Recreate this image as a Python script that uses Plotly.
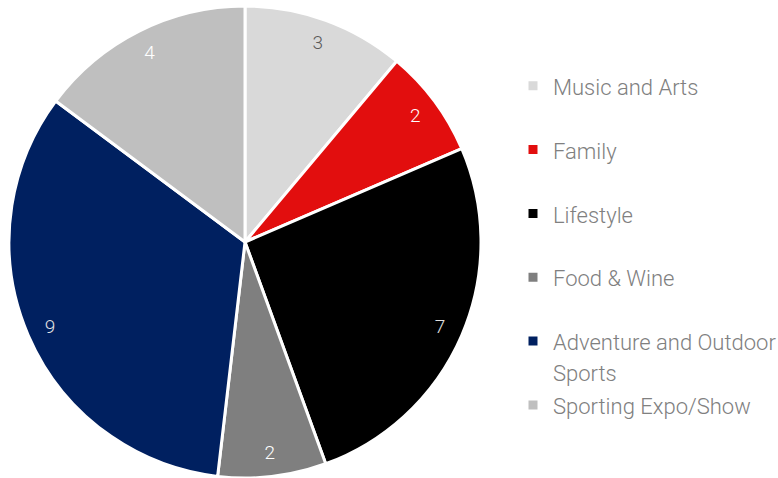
import plotly.graph_objects as go

categories = ["Music and Arts", "Family", "Lifestyle", "Food & Wine",
              "Adventure and Outdoor Sports", "Sporting Expo/Show"]
legend_labels = ["Music and Arts", "Family", "Lifestyle", "Food & Wine",
                 "Adventure and Outdoor<br>Sports", "Sporting Expo/Show"]
values = [3, 2, 7, 2, 9, 4]
colors = ["#d9d9d9", "#e20e0e", "#000000", "#7f7f7f", "#002060", "#bfbfbf"]
text_colors = ["#595959", "#ffffff", "#e0e0e0", "#ffffff", "#e0e0e0", "#ffffff"]

def legend_text(s):
    if "<br>" in s:
        parts = s.split("<br>")
        return "<br>".join(f"<span style='font-size:22px'>{p}</span>" for p in parts)
    return f"<span style='font-size:22px'>{s}</span><br> "

labels = [legend_text(s) for s in legend_labels]

dom = dict(x=[9/778, 481/778], y=[0, 1 - 6/478])
font_fam = "Roboto"

fig = go.Figure()
fig.add_trace(go.Pie(
    labels=labels, values=values, sort=False, direction="clockwise", rotation=0,
    marker=dict(colors=colors, line=dict(color="#ffffff", width=3)),
    textinfo="none", domain=dom, hoverinfo="label+value",
))
fig.add_trace(go.Pie(
    labels=labels, values=values, sort=False, direction="clockwise", rotation=0,
    hole=0.8, showlegend=False,
    marker=dict(colors=["rgba(0,0,0,0)"] * len(values), line=dict(width=0)),
    textinfo="value", textposition="inside", insidetextorientation="horizontal",
    insidetextfont=dict(family=font_fam, size=19, color=text_colors, weight=300),
    domain=dom, hoverinfo="skip",
))
fig.update_layout(
    width=778, height=478,
    margin=dict(l=0, r=0, t=0, b=0, autoexpand=False),
    paper_bgcolor="white", plot_bgcolor="white",
    font=dict(family=font_fam, weight=300),
    legend=dict(
        x=513/778, xanchor="left", y=1 - 64/478, yanchor="top",
        valign="top", traceorder="normal",
        font=dict(family=font_fam, size=23.4, color="#808080", weight=300),
        bgcolor="rgba(0,0,0,0)",
    ),
)
fig.write_html("out.html", config={"displayModeBar": False},
               post_script="document.body.style.margin='0';")
